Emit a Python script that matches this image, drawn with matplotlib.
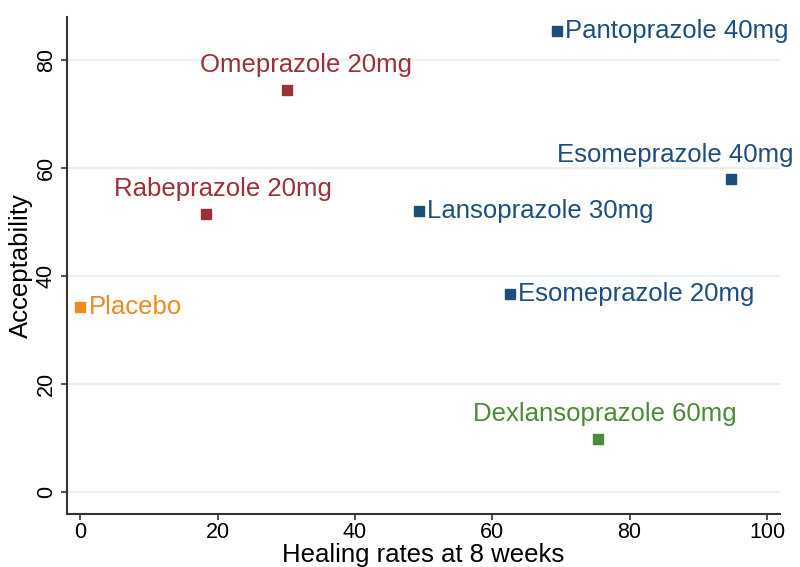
import matplotlib
matplotlib.use("Agg")
import matplotlib.pyplot as plt

plt.rcParams['font.family'] = ['Liberation Sans', 'DejaVu Sans']

names = ["Pantoprazole 40mg", "Omeprazole 20mg", "Esomeprazole 40mg", "Rabeprazole 20mg",
         "Lansoprazole 30mg", "Placebo", "Esomeprazole 20mg", "Dexlansoprazole 60mg"]
healing = [69.4, 30.1, 94.8, 18.3, 49.3, 0.0, 62.6, 75.4]
accept = [85.3, 74.4, 57.9, 51.5, 52.0, 34.2, 36.6, 9.9]
groups = ["blue", "red", "blue", "red", "blue", "orange", "blue", "green"]
xticks = [0, 20, 40, 60, 80, 100]
yticks = [0, 20, 40, 60, 80]

colors = {"blue": "#1d4e7e", "red": "#9b3038", "orange": "#ef8a1e", "green": "#4b8a36"}
# label placement: (dx, dy in points, ha, va)
place = {
    "Pantoprazole 40mg": (6, 0, "left", "center"),
    "Omeprazole 20mg": (14, 9, "center", "bottom"),
    "Esomeprazole 40mg": (-40, 9, "center", "bottom"),
    "Rabeprazole 20mg": (12, 9, "center", "bottom"),
    "Lansoprazole 30mg": (6, 0, "left", "center"),
    "Placebo": (6, 0, "left", "center"),
    "Esomeprazole 20mg": (6, 0, "left", "center"),
    "Dexlansoprazole 60mg": (5, 9, "center", "bottom"),
}

fig = plt.figure(figsize=(8, 5.67), dpi=100)
ax = fig.add_axes([0.084, 0.094, 0.891, 0.876])

for n, x, y, g in zip(names, healing, accept, groups):
    c = colors[g]
    ax.plot(x, y, marker="s", markersize=7, color=c, linestyle="none", zorder=3)
    dx, dy, ha, va = place[n]
    ax.annotate(n, (x, y), xytext=(dx, dy), textcoords="offset points",
                ha=ha, va=va, color=c, fontsize=18.5)

ax.set_xlim(-1.9, 101.9)
ax.set_ylim(-4.0, 87.9)
ax.set_xticks(xticks)
ax.set_yticks(yticks)
ax.tick_params(axis="both", labelsize=15.5, length=4.5, width=1.2, color="#333333",
               direction="out", pad=1.5)
ax.tick_params(axis="y", labelrotation=90, pad=3)
for lab in ax.get_yticklabels():
    lab.set_va("center")
ax.yaxis.grid(True, color="#e3eef3", linewidth=1.2)
ax.set_axisbelow(True)
for s in ["top", "right"]:
    ax.spines[s].set_visible(False)
for s in ["left", "bottom"]:
    ax.spines[s].set_color("#333333")
    ax.spines[s].set_linewidth(1.5)
ax.set_xlabel("Healing rates at 8 weeks", fontsize=18.5, labelpad=0)
ax.set_ylabel("Acceptability", fontsize=18.5, labelpad=2)

fig.savefig("out.png", dpi=100, facecolor="white")
